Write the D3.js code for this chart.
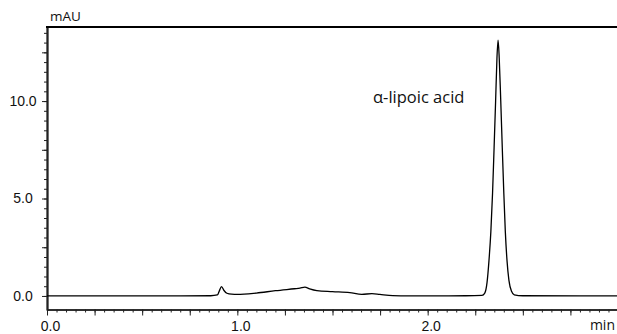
<!DOCTYPE html>
<html>
<head>
<meta charset="utf-8">
<script src="https://cdn.jsdelivr.net/npm/d3@7"></script>
<style>
  body { margin: 0; background: #fff; }
  svg { display: block; font-family: "Open Sans", "DejaVu Sans", sans-serif; }
</style>
</head>
<body>
<svg id="chrom"></svg>
<script>
// retention time (min) and absorbance (mAU)
const times = [0.00, 0.30, 0.60, 0.86, 0.895, 0.905, 0.917, 0.93, 0.945, 0.97, 1.00, 1.10, 1.20, 1.30, 1.329, 1.355, 1.38, 1.418, 1.50, 1.591, 1.654, 1.707, 1.749, 1.817, 1.90, 2.20, 2.285, 2.300, 2.312, 2.322, 2.332, 2.341, 2.349, 2.357, 2.364, 2.370, 2.376, 2.384, 2.392, 2.400, 2.408, 2.417, 2.427, 2.440, 2.455, 2.50, 2.80, 3.00];
const signal = [0.00, 0.00, 0.00, 0.01, 0.05, 0.25, 0.48, 0.28, 0.14, 0.09, 0.08, 0.15, 0.27, 0.37, 0.40, 0.45, 0.36, 0.27, 0.22, 0.17, 0.08, 0.12, 0.08, 0.02, 0.00, 0.01, 0.03, 0.15, 0.7, 1.8, 3.3, 5.3, 7.6, 10.0, 12.2, 13.13, 12.2, 10.0, 7.6, 5.3, 3.3, 1.8, 0.8, 0.25, 0.06, 0.01, 0.00, 0.00];

const xLabelTicks = [0.0, 1.0, 2.0];
const yLabelTicks = [0.0, 5.0, 10.0];
const peakName = "α-lipoic acid";

const W = 617, H = 334;
const svg = d3.select("#chrom").attr("width", W).attr("height", H);

// scales
const x = d3.scaleLinear().domain([0, 3]).range([47, 618]);
const y = d3.scaleLinear().domain([-0.72, 13.8]).range([310, 27]);

const xMinor = d3.range(0, 3.001, 0.05).map(v => +v.toFixed(2));
const xMajor = d3.range(0, 3.001, 0.25);
const yMinor = d3.range(0, 13.6, 0.5);
const yMid = d3.range(0, 13.6, 2.5);

// x axis: minor, major, then labels
const xg = svg.append("g").attr("transform", "translate(0,309.5)");
xg.append("g").call(d3.axisBottom(x).tickValues(xMinor).tickSize(3).tickSizeOuter(0).tickFormat(""));
xg.append("g").call(d3.axisBottom(x).tickValues(xMajor).tickSize(6).tickSizeOuter(0).tickFormat(""));
xg.append("g").call(d3.axisBottom(x).tickValues(xLabelTicks).tickSize(0).tickSizeOuter(0).tickFormat(d3.format(".1f")))
  .call(g => g.select(".domain").remove())
  .selectAll("text").attr("y", 11.5).attr("dx", 3).style("font-size", "14px").attr("fill", "#111");
xg.selectAll(".domain").attr("stroke", "#222").attr("stroke-width", 1.6);
xg.selectAll(".tick line").attr("stroke", "#222");

// y axis
const yg = svg.append("g").attr("transform", "translate(47,0)");
yg.append("g").call(d3.axisLeft(y).tickValues(yMinor).tickSize(3).tickSizeOuter(0).tickFormat(""));
yg.append("g").call(d3.axisLeft(y).tickValues(yMid).tickSize(5).tickSizeOuter(0).tickFormat(""));
yg.append("g").call(d3.axisLeft(y).tickValues(yLabelTicks).tickSize(0).tickSizeOuter(0).tickFormat(d3.format(".1f")))
  .call(g => g.select(".domain").remove())
  .selectAll("text").attr("x", -24).attr("text-anchor", "middle").style("font-size", "14px").attr("fill", "#111");
yg.selectAll(".domain").attr("stroke", "#222").attr("stroke-width", 1.8);
yg.selectAll(".tick line").attr("stroke", "#222");

// top border
svg.append("line").attr("x1", 46).attr("x2", W).attr("y1", 27).attr("y2", 27)
  .attr("stroke", "#000").attr("stroke-width", 2);

// trace
const pts = times.map((t, i) => [t, signal[i]]);
const line = d3.line().x(d => x(d[0])).y(d => y(d[1])).curve(d3.curveMonotoneX);
svg.append("path").datum(pts)
  .attr("fill", "none").attr("stroke", "#000").attr("stroke-width", 1.3)
  .attr("d", line);

// labels
svg.append("text").attr("x", 50).attr("y", 21).text("mAU").style("font-size", "13.5px").attr("fill", "#111");
svg.append("text").attr("x", 615).attr("y", 330).attr("text-anchor", "end").text("min").style("font-size", "14px").attr("fill", "#111");
svg.append("text").attr("x", 373).attr("y", 103).text(peakName).style("font-size", "16.5px").attr("fill", "#111");
</script>
</body>
</html>
